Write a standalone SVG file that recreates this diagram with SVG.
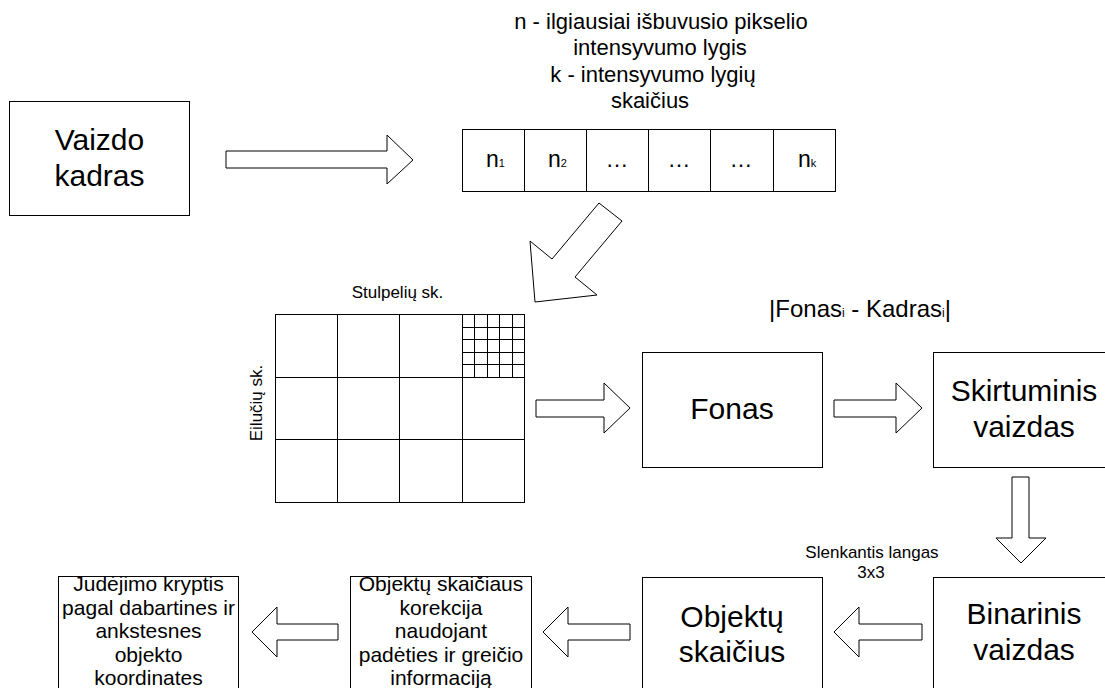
<svg xmlns="http://www.w3.org/2000/svg" width="1105" height="688" viewBox="0 0 1105 688">
<style>
.box{fill:#fff;stroke:#000;stroke-width:1}
.ln{stroke:#000;stroke-width:1;fill:none}
.arr{fill:#fff;stroke:#000;stroke-width:1;stroke-linejoin:miter}
text{font-family:"Liberation Sans",Arial,sans-serif;fill:#000}
.big{font-size:30px;text-anchor:middle}
.mid{font-size:21px;text-anchor:middle}
.note{font-size:22px;text-anchor:middle}
.sm{font-size:17px;text-anchor:middle}
.cell{font-size:23px}
</style>
<rect width="1105" height="688" fill="#fff"/>
<g id="connectors">
<polygon class="arr" points="226,151 387,151 387,135 413,160 387,184 387,168 226,168"/>
<polygon class="arr" points="599,203 622,221 575,277 597,295 535,302 530,241 552,259"/>
<polygon class="arr" points="536,400 604,400 604,383 630,408 604,433 604,417 536,417"/>
<polygon class="arr" points="834,400 896,400 896,383 922,408 896,433 896,417 834,417"/>
<polygon class="arr" points="1012,477 1029,477 1029,538 1046,538 1021,563 996,538 1012,538"/>
<polygon class="arr" points="922,624 859,624 859,607 834,632 859,657 859,640 922,640"/>
<polygon class="arr" points="630,624 568,624 568,607 543,632 568,657 568,640 630,640"/>
<polygon class="arr" points="338,624 277,624 277,607 252,632 277,657 277,640 338,640"/>
</g>
<g id="vaizdo-kadras">
<rect class="box" x="9.5" y="101.5" width="180" height="114"/>
<text class="big" x="99.5" y="150">Vaizdo</text>
<text class="big" x="99.5" y="186">kadras</text>
</g>
<g id="legend">
<text class="note" x="661" y="29">n - ilgiausiai išbuvusio pikselio</text>
<text class="note" x="660" y="55">intensyvumo lygis</text>
<text class="note" x="653" y="82">k - intensyvumo lygių</text>
<text class="note" x="650" y="108">skaičius</text>
</g>
<g id="histogram">
<rect class="box" x="462.5" y="129.5" width="373" height="62"/>
<path class="ln" d="M524.5,129.5V191.5M586.5,129.5V191.5M648.5,129.5V191.5M710.5,129.5V191.5M773.5,129.5V191.5"/>
<text class="cell" x="486" y="167">n<tspan font-size="11">1</tspan></text>
<text class="cell" x="548" y="167">n<tspan font-size="11">2</tspan></text>
<text class="cell" x="617" y="167" text-anchor="middle">…</text>
<text class="cell" x="679" y="167" text-anchor="middle">…</text>
<text class="cell" x="741" y="167" text-anchor="middle">…</text>
<text class="cell" x="798" y="167">n<tspan font-size="11">k</tspan></text>
</g>
<g id="grid">
<text class="sm" x="397.5" y="298">Stulpelių sk.</text>
<text class="sm" transform="translate(262,403) rotate(-90)">Eilučių sk.</text>
<rect class="box" x="275.5" y="314.5" width="249" height="188"/>
<path class="ln" d="M337.5,314.5V502.5M399.5,314.5V502.5M462.5,314.5V502.5M275.5,377.5H524.5M275.5,439.5H524.5"/>
<path class="ln" d="M474.5,314.5V377.5M487.5,314.5V377.5M499.5,314.5V377.5M512.5,314.5V377.5M462.5,327.5H524.5M462.5,339.5H524.5M462.5,352.5H524.5M462.5,364.5H524.5"/>
</g>
<g id="formula">
<text x="860" y="317" font-size="24" text-anchor="middle">|Fonas<tspan font-size="12">i</tspan> - Kadras<tspan font-size="12">i</tspan>|</text>
</g>
<g id="fonas">
<rect class="box" x="642.5" y="352.5" width="180" height="115"/>
<text class="big" x="732" y="419">Fonas</text>
</g>
<g id="skirtuminis">
<rect class="box" x="933.5" y="352.5" width="200" height="115"/>
<text class="big" x="1024" y="401">Skirtuminis</text>
<text class="big" x="1024" y="437">vaizdas</text>
</g>
<g id="slenkantis">
<text class="sm" x="872" y="558">Slenkantis langas</text>
<text class="sm" x="871" y="578">3x3</text>
</g>
<g id="binarinis">
<rect class="box" x="933.5" y="577.5" width="200" height="130"/>
<text class="big" x="1024" y="624">Binarinis</text>
<text class="big" x="1024" y="660">vaizdas</text>
</g>
<g id="objektu-skaicius">
<rect class="box" x="642.5" y="577.5" width="180" height="130"/>
<text class="big" x="732" y="627">Objektų</text>
<text class="big" x="732" y="662">skaičius</text>
</g>
<g id="korekcija">
<rect class="box" x="350.5" y="576.5" width="181" height="130"/>
<text class="mid" x="441" y="591">Objektų skaičiaus</text>
<text class="mid" x="441" y="614.5">korekcija</text>
<text class="mid" x="441" y="638">naudojant</text>
<text class="mid" x="441" y="661.5">padėties ir greičio</text>
<text class="mid" x="441" y="685">informaciją</text>
</g>
<g id="judejimo">
<rect class="box" x="58.5" y="576.5" width="180" height="130"/>
<text class="mid" x="148.5" y="591">Judėjimo kryptis</text>
<text class="mid" x="148.5" y="614.5">pagal dabartines ir</text>
<text class="mid" x="148.5" y="638">ankstesnes</text>
<text class="mid" x="148.5" y="661.5">objekto</text>
<text class="mid" x="148.5" y="685">koordinates</text>
</g>
</svg>
